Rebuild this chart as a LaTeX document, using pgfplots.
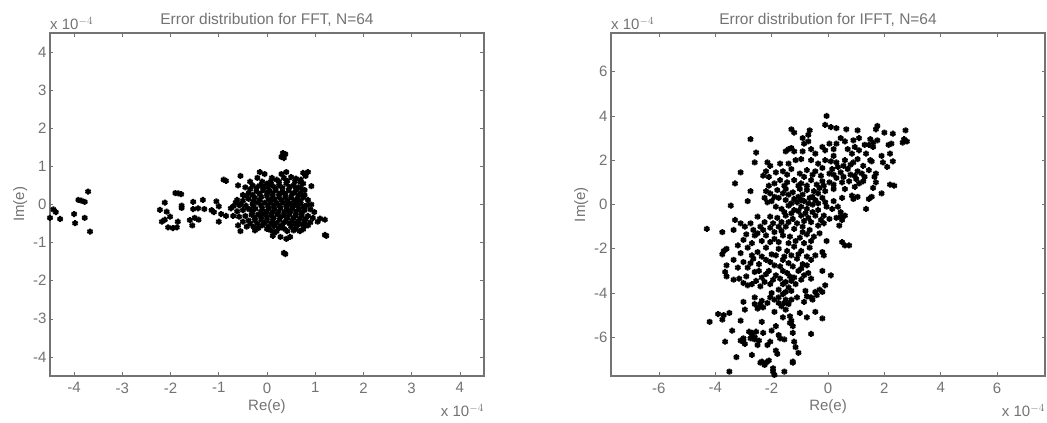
\documentclass[border=0pt]{standalone}
\usepackage{fontspec}
\setmainfont{Liberation Sans}
\usepackage{pgfplots}
\pgfplotsset{compat=1.18}
\definecolor{ink}{gray}{0.45}
\pgfplotsset{
  panel/.style={
    width=434pt,height=343pt,scale only axis,
    axis line style={ink,line width=1.2pt},
    tick style={ink,line width=0.6pt},
    tick align=inside,major tick length=3.5pt,
    ticks=both,
    x tick label style={yshift=-3pt},
    xtick pos=both,ytick pos=both,
    scaled ticks=false,
    every tick label/.append style={font=\fontsize{15}{16}\selectfont,text=ink},
    /pgf/number format/assume math mode=true,
    xlabel style={font=\fontsize{15}{16}\selectfont,text=ink,yshift=0pt},
    ylabel style={font=\fontsize{15}{16}\selectfont,text=ink,yshift=-1pt},
    title style={font=\fontsize{15.5}{16}\selectfont,text=ink,yshift=-3pt},
    xlabel={Re(e)},ylabel={Im(e)},
    clip=false,
  },
  dots/.style={only marks,black,mark=asterisk,mark size=3pt,mark options={line width=2pt,black}},
}
\begin{document}
\begin{tikzpicture}[x=1pt,y=1pt]
\useasboundingbox (0,0) rectangle (1047,423);
\begin{axis}[panel,at={(50pt,47pt)},anchor=south west,
  xmin=-4.5,xmax=4.5,ymin=-4.5,ymax=4.5,
  xtick={-4,-3,-2,-1,0,1,2,3,4},ytick={-4,-3,-2,-1,0,1,2,3,4},
  title={Error distribution for FFT, N=64}]
\addplot[dots] coordinates {
(-3.71,.34)(-3.91,.12)(-3.78,.07)(-4.43,-.13)(-4.5,-.35)(-4.29,-.38)(-4,-.25)(-3.98,-.49)(-3.78,-.35)(-3.67,-.71)
(-4.38,-.2)(-3.85,.1)
(-1.84,.29)(-1.9,.3)(-1.78,.27)(-2.12,.05)(-2.22,-.14)(-2.08,-.19)(-1.77,-.09)(-2.01,-.32)(-2.18,-.45)(-2.05,-.6)(-1.87,-.6)(-1.85,-.45)(-2.12,-.4)(-1.53,.07)(-1.33,.12)(-1.53,-.12)(-1.6,-.41)(-1.5,-.35)(-1.42,-.4)(-1.3,-.12)(-1.77,-.03)(-1.43,-.1)(-1.95,-.62)(-1.55,-.55)(-1.15,-.15)(-1.05,.08)(-1,-.05)(-.95,-.25)(-1,-.45)(-.85,-.3)(-.75,-.1)(-.65,.05)(-.55,.0)(-.7,-.3)(-.9,.65)(-.85,.62)(-1.1,-.2)
(.33,1.35)(.3,1.25)(.38,1.32)(.35,1.22)(.35,-1.27)(.38,-1.3)(1.23,-.82)(1.2,-.8)(1.2,-.4)(1.1,-.37)(1.05,-.45)
(-.15,.85)(-.05,.8)(.3,.8)(.4,.85)(.75,.83)(.85,.85)(.8,.75)
(-.55,.75)(.1,.7)(.2,.65)(.35,.7)(.5,.72)(.6,.68)(.7,.65)(-.2,.7)(-.35,.6)(-.1,.6)(.92,.48)
(-.6,.5)(-.45,.45)(-.3,.5)(-.15,.5)(0,.55)(.1,.5)(.25,.5)(.4,.55)(.55,.5)(.65,.45)(.75,.55)(-.35,.4)
(-.5,.25)(-.38,.3)(-.22,.35)(-.08,.38)(.05,.36)(.18,.38)(.32,.33)(.45,.38)(.58,.32)(.7,.3)(.78,.38)
(-.62,.12)(-.5,.1)(-.38,.15)(-.25,.18)(-.12,.2)(0,.22)(.12,.2)(.25,.2)(.38,.18)(.5,.2)(.63,.15)(.75,.18)(.85,.12)
(-.7,-.05)(-.58,-.02)(-.44,-.03)(-.3,.02)(-.18,.05)(-.05,.05)(.08,.06)(.2,.04)(.33,.05)(.46,.04)(.58,.02)(.7,.03)(.82,-.02)(.92,0)
(-.62,-.18)(-.5,-.15)(-.36,-.13)(-.24,-.11)(-.1,-.1)(.03,-.1)(.15,-.12)(.28,-.1)(.41,-.12)(.53,-.1)(.66,-.12)(.78,-.15)(.9,-.13)(.98,-.2)
(-.58,-.32)(-.45,-.3)(-.32,-.27)(-.18,-.26)(-.05,-.25)(.08,-.27)(.22,-.25)(.35,-.27)(.47,-.26)(.6,-.28)(.72,-.3)(.85,-.3)(.95,-.35)
(-.5,-.45)(-.38,-.42)(-.25,-.42)(-.12,-.4)(0,-.42)(.12,-.42)(.26,-.4)(.4,-.42)(.52,-.42)(.65,-.44)(.78,-.45)(.9,-.47)
(-.6,-.55)(-.42,-.58)(-.28,-.58)(-.1,-.55)(.03,-.58)(.15,-.56)(.3,-.55)(.5,-.58)(.62,-.55)(.8,-.55)
(-.55,-.7)(-.25,-.68)(.08,-.68)(.15,-.75)(.42,-.7)(.55,-.68)(.68,-.7)(.75,-.65)(.12,-.82)(.28,-.85)(.4,-.9)(.48,-.85)(.2,-.7)
(-.43,.22)(-.28,.08)(-.15,.12)(.03,.13)(.16,.12)(.3,.12)(.43,.1)(.56,.1)(.68,.08)(-.4,-.1)(-.28,-.05)(-.12,-.02)(.02,-.02)(.14,-.04)(.26,-.03)(.4,-.03)(.52,-.04)(.64,-.04)(.76,-.06)(-.3,-.2)(-.12,-.18)(0,-.18)(.12,-.2)(.24,-.18)(.36,-.2)(.48,-.18)(.6,-.2)(.72,-.22)
(-.3,.25)(-.15,.28)(0,.3)(.12,.29)(.25,.28)(.38,.27)(.52,.28)(.65,.24)(.78,.25)(.02,.45)(.17,.44)(.32,.44)(.47,.46)(.6,.4)(.7,.42)(-.22,.44)(-.08,.46)(.25,.6)(.42,.62)(.58,.6)(.7,.58)(.08,.6)
(-.25,-.34)(-.12,-.32)(0,-.33)(.14,-.34)(.28,-.33)(.42,-.34)(.55,-.35)(.68,-.37)(.8,-.38)(-.2,-.5)(-.05,-.49)(.08,-.5)(.2,-.49)(.35,-.48)(.47,-.5)(.58,-.5)(.72,-.52)(.85,-.55)
(-.18,-.62)(0,-.64)(.35,-.63)(.6,-.63)(.25,-.62)(-.35,-.5)
};
\node[font=\fontsize{15}{16}\selectfont,text=ink,anchor=south west,inner sep=0pt,yshift=3pt] at (rel axis cs:0,1) {x 10$^{-4}$};
\node[font=\fontsize{15}{16}\selectfont,text=ink,anchor=north east,inner sep=0pt] at (rel axis cs:1,0) [yshift=-28pt]{x 10$^{-4}$};
\end{axis}
\begin{axis}[panel,at={(611pt,47pt)},anchor=south west,
  xmin=-7.7,xmax=7.7,ymin=-7.75,ymax=7.75,
  xtick={-6,-4,-2,0,2,4,6},ytick={-6,-4,-2,0,2,4,6},
  title={Error distribution for IFFT, N=64}]
\addplot[dots] coordinates {
(-.05,4)(-.1,3.6)(.1,3.5)(.3,3.45)(.65,3.4)(1.05,3.35)(1.75,3.55)(1.7,3.4)(-1.3,3.4)(-1.2,3.25)(-.65,3.35)(-.7,3.15)(2.75,3.35)(2.3,3.2)(2,3.25)(1.1,3)
(-2.75,2.95)(-.9,3)(-.7,2.85)(-.85,2.75)(.45,3)(.3,2.75)(.6,2.85)(.9,2.9)(1.5,2.95)(1.6,2.8)(1.45,2.7)(1.75,2.9)(2.7,2.95)(2.8,2.85)(2.65,2.8)(2.25,2.75)(2.15,2.7)(1.6,2.6)
(-2.55,2.35)(-1.4,2.5)(-1.3,2.55)(-1.5,2.4)(-1.2,2.4)(-.9,2.4)(-.6,2.5)(-.45,2.3)(-.1,2.45)(-.2,2.6)(.2,2.2)(.7,2.5)(.85,2.3)(.95,2.6)(1.1,2.45)(1.9,2.2)(2.2,2.3)
(-2.6,1.9)(-2.15,1.9)(-2.05,1.75)(-1.7,1.85)(-1.4,1.85)(-1.15,2)(-.95,2.05)(-.6,2)(-.35,1.85)(-.1,2)(.1,1.95)(.3,1.9)(.6,2)(.9,1.9)(1.05,2.05)(1.5,2)(1.55,1.95)(1.95,1.9)(2.3,1.95)(2.1,1.7)
(-3.1,1.45)(-2.2,1.5)(-2.3,1.3)(-2.1,1.25)(-1.6,1.5)(-1.3,1.6)(-1,1.4)(-.75,1.55)(-.45,1.5)(-.2,1.65)(.05,1.4)(.15,1.6)(.45,1.45)(.7,1.6)(.8,1.35)(1.05,1.5)(1.2,1.4)(1.7,1.4)(1.65,1.25)(.35,1.7)
(-3.3,.95)(-2.1,.85)(-1.7,1.1)(-1.45,1)(-1.2,1.1)(-.95,.95)(-.6,1.1)(-.4,.9)(-.2,1.05)(.05,1)(.3,1.2)(.5,1)(.75,1.05)(1,1.15)(1.25,1.05)(1.1,.95)(1.7,1)(2.2,.9)(2.35,.85)
(-2.75,.6)(-2.2,.6)(-2.05,.5)(-1.8,.65)(-1.5,.7)(-1.25,.55)(-1,.7)(-.75,.65)(-.5,.6)(-.3,.75)(-.1,.6)(.2,.7)(.6,.7)(.95,.8)(1.9,.5)(1.6,.75)
(-2.85,.15)(-2.25,.3)(-2,.15)(-1.75,.3)(-1.5,.2)(-1.2,.25)(-1.05,.35)(-.85,.15)(-.65,.3)(-.45,.2)(-.2,.3)(.85,.4)(.9,.25)(1.05,.35)(1.55,.35)(1.45,.25)
(-3.45,-.05)(-1.85,-.1)(-1.65,-.2)(-1.4,-.05)(-1.2,-.25)(-.95,-.1)(-.75,-.2)(-.55,0)(-.35,-.25)(-.05,-.1)(.15,-.2)(.35,-.1)(1.35,-.2)(.45,-.35)
(-3.3,-.7)(-2.05,-.55)(-1.8,-.6)(-1.5,-.5)(-1.25,-.65)(-.95,-.5)(-.7,-.6)(-.45,-.5)(-.15,-.5)(.05,-.65)(.3,-.6)(.45,-.55)(.6,-.5)(.5,-.7)
(-4.3,-1.1)(-3.75,-1.25)(-3.35,-1.15)(-3.1,-.85)(-2.5,-.55)(-2.4,-1)(-2.65,-1.15)(-2.3,-1.15)(-2.05,-1.05)(-1.75,-1)(-1.5,-1)(-1.2,-1.1)(-.9,-1)(-.65,-1.15)(-.35,-.95)(-.15,-.85)(.4,-.95)
(-2.9,-1.35)(-2.6,-1.4)(-2.2,-1.4)(-1.9,-1.55)(-1.6,-1.4)(-1.35,-1.45)(-1,-1.5)(-.75,-1.35)(-.5,-1.45)(-.05,-1.65)(.5,-1.7)(.6,-1.85)(.75,-1.85)
(-3.7,-2.1)(-3.6,-2)(-3.75,-2.25)(-3.2,-1.85)(-3.1,-2.2)(-2.85,-1.95)(-2.5,-2.15)(-2.2,-1.95)(-2,-2.25)(-1.75,-2)(-1.45,-2.1)(-1.2,-1.9)(-.95,-2.1)(-.65,-1.95)(-.2,-2.15)(-.15,-2.3)
(-3.6,-2.75)(-3,-2.6)(-2.65,-2.45)(-2.45,-2.7)(-2.2,-2.5)(-1.9,-2.75)(-1.6,-2.5)(-1.4,-2.65)(-1.1,-2.45)(-.9,-2.7)(-.6,-2.5)(-3.2,-2.85)(-2.85,-2.85)
(-3.65,-3.05)(-3.6,-3.25)(-3.35,-3.4)(-3.15,-3.35)(-2.9,-3.25)(-2.6,-3.05)(-2.35,-3.3)(-2.1,-3)(-1.85,-3.2)(-1.6,-3)(-1.35,-3.25)(-1.05,-3)(-.85,-3.2)(-.6,-3.35)(-.2,-3)(.1,-3.2)
(-3,-3.55)(-2.7,-3.6)(-2.4,-3.7)(-2.05,-3.6)(-1.75,-3.85)(-1.5,-3.5)(-1.4,-3.75)(-1.15,-3.6)(-.8,-3.9)(-.3,-3.85)(-.1,-3.65)(-.2,-3.95)(-2,-4)(-1.6,-4.05)
(-3,-4.4)(-2.6,-4.2)(-2.4,-4.5)(-2.5,-4.7)(-2.15,-4.45)(-1.9,-4.3)(-1.65,-4.6)(-1.4,-4.5)(-1.1,-4.2)(-.85,-4.4)(-.55,-4.3)(-.4,-4.1)(-2.95,-4.75)(-2.3,-4.65)(-1.9,-4.85)(-1.5,-4.75)
(-3.9,-4.95)(-3.7,-5)(-3.5,-4.9)(-4.2,-5.3)(-3.75,-5.2)(-3.1,-5.25)(-2.35,-5.3)(-1.85,-5.5)(-1.3,-5.25)(-1.25,-5.5)(-.75,-5.1)(-.2,-5.15)(-.45,-4.85)(-1.6,-5.1)(-1,-4.9)
(-3.4,-5.7)(-2.8,-5.75)(-2.7,-5.9)(-2.6,-6)(-3.1,-6.15)(-3,-6.2)(-2.45,-6.15)(-2.3,-5.8)(-2.05,-6.2)(-1.75,-5.9)(-1.55,-6.1)(-1.25,-5.8)(-.6,-5.85)(-1.2,-6.2)(-2,-5.7)
(-3.65,-6.2)(-2.15,-6.35)(-1.85,-6.6)(-1.8,-6.75)(-1.15,-6.45)(-1.05,-6.7)(-3.25,-6.9)(-2.7,-6.8)(-2.35,-7.1)(-2.25,-7.25)(-2.1,-7.05)(-1.25,-7.15)
(-3.5,-7.55)(-1.95,-7.4)(-1.9,-7.7)(-1.55,-7.55)(-1.95,-7.55)
(-1.85,1.45)(-1.45,1.35)(-.85,1.25)(-.55,1.35)(-.25,1.3)(.2,1.35)(.55,1.25)(.95,1.3)(1.3,1.25)(1.45,1.55)(.55,1.75)(.8,1.8)(1.25,1.75)(1.35,2.3)(1.3,2.7)(.2,2.5)(.05,2.75)
(-1.9,.95)(-1.55,.85)(-1.05,.85)(-.75,.85)(-.15,.85)(.2,.9)(-.55,.35)(-.35,.5)(-.9,.45)(-1.4,.45)(-1.6,.5)(-1.9,.35)(-2.15,.1)(-1.3,.05)(-1.1,.1)(-.7,.05)(-.95,.2)(-.35,.05)(-.1,.1)(.2,.15)(.5,.3)
(-1.55,-.35)(-1.3,-.4)(-1.05,-.3)(-.8,-.4)(-.55,-.35)(-.25,-.7)(-.6,-.8)(-.85,-.75)(-1.1,-.85)(-1.4,-.8)(-1.65,-.8)(-1.95,-.85)(-2.25,-.8)(-2.75,-.85)(-2.95,-1)(-2.5,-1.3)
(-2.35,-1.65)(-2.05,-1.7)(-1.75,-1.7)(-1.4,-1.75)(-1.15,-1.65)(-.85,-1.75)(-.6,-1.65)(-.3,-1.3)(-2.7,-1.75)(-3,-1.6)(-.9,-1.25)(-1.65,-1.2)(-1.9,-1.25)
(-2.7,-2.3)(-2.35,-2.35)(-1.85,-2.3)(-1.55,-2.35)(-1.3,-2.3)(-1.05,-2.25)(-.75,-2.35)(-.45,-2.3)(-2.05,-2.6)(-1.7,-2.8)(-1.25,-2.8)(-.75,-2.75)(-.95,-2.9)(-2.75,-2.65)(-3.35,-2.5)
(-2.45,-3)(-2.2,-3.15)(-1.95,-3.4)(-1.7,-3.35)(-1.45,-3.1)(-1.2,-3.3)(-.95,-3.4)(-.7,-3.1)(-2.85,-3.65)(-2.55,-3.45)(-2.25,-3.5)(-1.6,-3.6)(-1.3,-3.45)(-1.3,-3.9)(-1.5,-3.95)
(-.45,-3.95)(-.6,-4.2)(-.75,-4.15)(-1.3,-4.3)(-1.5,-4.3)(-1.75,-4.2)(-2.05,-4.2)(-1.75,-4.45)(-1.55,-4.45)(-2.6,-4.5)(-2.45,-4.65)(-2.35,-4.35)
(-2.7,-5.8)(-2.55,-5.75)(-2.75,-6.05)(-3,-6.05)(-2.95,-6.3)(-1.7,-6.05)(-1.35,-5.05)(-1.35,-5.35)(-2.6,-6.1)(-2.5,-6.35)(-1.25,-7.1)(-2.4,-7.15)(-2.2,-7.15)
};
\node[font=\fontsize{15}{16}\selectfont,text=ink,anchor=south west,inner sep=0pt,yshift=3pt] at (rel axis cs:0,1) {x 10$^{-4}$};
\node[font=\fontsize{15}{16}\selectfont,text=ink,anchor=north east,inner sep=0pt] at (rel axis cs:1,0) [yshift=-28pt]{x 10$^{-4}$};
\end{axis}
\end{tikzpicture}
\end{document}
